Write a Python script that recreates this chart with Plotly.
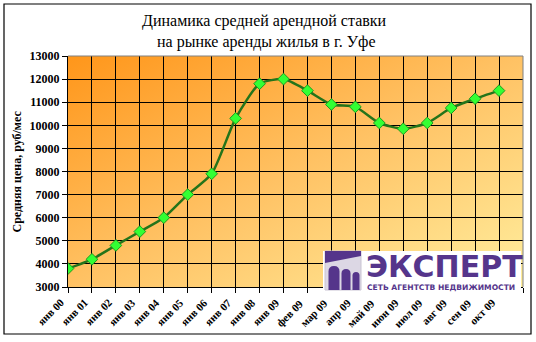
import base64
import plotly.graph_objects as go

# ---- data ----
labels = ["янв 00", "янв 01", "янв 02", "янв 03", "янв 04", "янв 05", "янв 06",
          "янв 07", "янв 08", "янв 09", "фев 09", "мар 09", "апр 09", "май 09",
          "июн 09", "июл 09", "авг 09", "сен 09", "окт 09"]
prices = [3800, 4200, 4800, 5400, 6000, 7000, 7900, 10300, 11800, 12000,
          11500, 10900, 10800, 10100, 9850, 10100, 10750, 11150, 11500]
y_ticks = list(range(3000, 13001, 1000))
title_lines = ["Динамика средней арендной ставки", "на рынке аренды жилья в г. Уфе"]
y_title = "Средняя цена, руб/мес"

W, H = 536, 342
L, R, T, B = 68, 523, 56, 287  # plot area pixel bounds


def px(x):
    return (x - L) / (R - L)


def py(y):
    return (B - y) / (B - T)


svg = ('<svg xmlns="http://www.w3.org/2000/svg" width="455" height="231" '
       'preserveAspectRatio="none" viewBox="0 0 455 231">'
       '<defs><linearGradient id="g" x1="0" y1="0" x2="1" y2="1">'
       '<stop offset="0" stop-color="#ff961a"/>'
       '<stop offset="0.5" stop-color="#ffc264"/>'
       '<stop offset="1" stop-color="#ffee9e"/>'
       '</linearGradient></defs>'
       '<rect width="455" height="231" fill="url(#g)"/></svg>')
svg_uri = "data:image/svg+xml;base64," + base64.b64encode(svg.encode()).decode()

x_idx = list(range(len(labels)))

fig = go.Figure()
fig.add_trace(go.Scatter(
    x=x_idx, y=prices, mode="lines+markers",
    line=dict(color="#24741a", width=2.5, shape="spline", smoothing=0.6),
    marker=dict(symbol="diamond", size=9, color="#33ff33",
                line=dict(color="#1f9a1f", width=1)),
    showlegend=False, hoverinfo="x+y",
))

serif = "Liberation Serif"

fig.update_layout(
    width=W, height=H,
    margin=dict(l=L, r=W - R, t=T, b=H - B),
    paper_bgcolor="white", plot_bgcolor="#ffc264",
    showlegend=False,
    xaxis=dict(
        range=[0, len(labels)], tickmode="array",
        tickvals=list(range(len(labels) + 1)), showticklabels=False,
        ticks="outside", ticklen=5, tickcolor="black",
        showline=True, linecolor="black", linewidth=1,
        showgrid=True, gridcolor="black", gridwidth=1, zeroline=False,
        automargin=False, fixedrange=True,
    ),
    yaxis=dict(
        range=[3000, 13000], tickmode="array", tickvals=y_ticks,
        ticktext=[str(v) for v in y_ticks],
        ticks="outside", ticklen=5, tickcolor="black",
        showline=True, linecolor="black", linewidth=1,
        showgrid=True, gridcolor="black", gridwidth=1, zeroline=False,
        tickfont=dict(family=serif, size=12, color="black", weight="bold"),
        automargin=False, fixedrange=True,
    ),
    images=[dict(source=svg_uri, xref="paper", yref="paper", x=0, y=1,
                 sizex=1, sizey=1, sizing="stretch", layer="below",
                 xanchor="left", yanchor="top")],
)

shapes = []
shapes.append(dict(type="path", xref="paper", yref="paper",
                   path="M 0,1 L 1,1 L 1,0", line=dict(color="#808080", width=1),
                   layer="above"))
shapes.append(dict(type="rect", xref="paper", yref="paper",
                   x0=px(4), x1=px(531), y0=py(334), y1=py(4),
                   line=dict(color="black", width=1.2), layer="above"))
shapes.append(dict(type="rect", xref="paper", yref="paper",
                   x0=px(323), x1=px(521), y0=py(293), y1=py(251),
                   fillcolor="white", line=dict(width=0), layer="above"))
shapes.append(dict(type="rect", xref="paper", yref="paper",
                   x0=px(325), x1=px(361), y0=py(290), y1=py(251),
                   fillcolor="#dcd7e4", line=dict(color="#c9c4d3", width=1),
                   layer="above"))
purple = "#55358b"
shapes.append(dict(type="path", xref="paper", yref="paper",
                   path=f"M {px(325)},{py(251)} L {px(361)},{py(251)} "
                        f"L {px(361)},{py(256)} L {px(325)},{py(263)} Z",
                   fillcolor=purple, line=dict(width=0), layer="above"))
for (a, b_, top) in [(328.5, 339.5, 266), (341.5, 350.5, 269), (352.5, 359.5, 272)]:
    r = (b_ - a) / 2
    path = (f"M {px(a)},{py(290)} L {px(a)},{py(top + r)} "
            f"Q {px(a)},{py(top)} {px((a + b_) / 2)},{py(top)} "
            f"Q {px(b_)},{py(top)} {px(b_)},{py(top + r)} "
            f"L {px(b_)},{py(290)} Z")
    shapes.append(dict(type="path", xref="paper", yref="paper", path=path,
                       fillcolor=purple, line=dict(width=0), layer="above"))
fig.update_layout(shapes=shapes)

annotations = [
    dict(text=title_lines[0], xref="paper", yref="paper", x=px(264), y=py(20.5),
         xanchor="center", yanchor="middle", showarrow=False,
         font=dict(family=serif, size=16, color="black")),
    dict(text=title_lines[1], xref="paper", yref="paper", x=px(266), y=py(42.5),
         xanchor="center", yanchor="middle", showarrow=False,
         font=dict(family=serif, size=16, color="black")),
    dict(text=y_title, textangle=-90, xref="paper", yref="paper",
         x=px(16), y=0.5, xanchor="center", yanchor="middle", showarrow=False,
         font=dict(family=serif, size=12, color="black", weight="bold")),
    dict(text="ЭКСПЕРТ", xref="paper", yref="paper", x=px(364), y=py(266),
         xanchor="left", yanchor="middle", showarrow=False,
         font=dict(family="DejaVu Sans", size=30, color=purple, weight="bold")),
    dict(text="СЕТЬ АГЕНТСТВ НЕДВИЖИМОСТИ", xref="paper", yref="paper",
         x=px(365), y=py(287.5), xanchor="left", yanchor="middle", showarrow=False,
         font=dict(family="DejaVu Sans", size=7.6, color=purple, weight="bold")),
]
for i, lab in enumerate(labels):
    annotations.append(dict(
        text=lab, textangle=-45, xref="x", yref="paper", x=i, y=py(294),
        xanchor="right", yanchor="top", xshift=1, showarrow=False,
        font=dict(family=serif, size=11, color="black", weight="bold")))
fig.update_layout(annotations=annotations)

fig.write_html("out.html")
